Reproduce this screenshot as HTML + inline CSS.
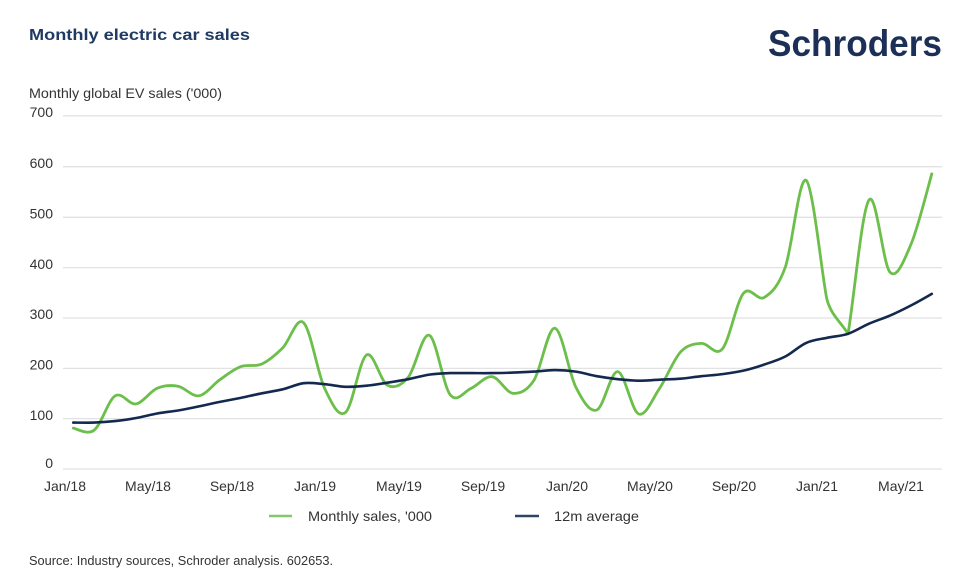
<!DOCTYPE html>
<html><head><meta charset="utf-8"><style>
html,body{margin:0;padding:0;background:#fff;}
svg{display:block;}
text{font-family:"Liberation Sans",Arial,sans-serif;}
</style></head><body>
<svg id="c" width="960" height="582" viewBox="0 0 960 582" xmlns="http://www.w3.org/2000/svg">
<rect width="960" height="582" fill="#fff"/>
<text x="29" y="40" font-size="16" font-weight="bold" fill="#1f3a63" textLength="221" lengthAdjust="spacingAndGlyphs">Monthly electric car sales</text>
<text x="768" y="56" font-size="37" font-weight="bold" fill="#1c2f57" textLength="174" lengthAdjust="spacingAndGlyphs">Schroders</text>
<text x="29" y="98" font-size="13.5" fill="#333" textLength="193" lengthAdjust="spacingAndGlyphs">Monthly global EV sales ('000)</text>
<g stroke="#e2e2e2" stroke-width="1.3">
<line x1="63" x2="942" y1="115.8" y2="115.8"/>
<line x1="63" x2="942" y1="166.7" y2="166.7"/>
<line x1="63" x2="942" y1="217.3" y2="217.3"/>
<line x1="63" x2="942" y1="267.6" y2="267.6"/>
<line x1="63" x2="942" y1="318" y2="318"/>
<line x1="63" x2="942" y1="368.4" y2="368.4"/>
<line x1="63" x2="942" y1="418.6" y2="418.6"/>
<line x1="63" x2="942" y1="469" y2="469"/>
</g>
<g font-size="14" fill="#333" text-anchor="end">
<text x="53" y="117">700</text>
<text x="53" y="168">600</text>
<text x="53" y="218.5">500</text>
<text x="53" y="269">400</text>
<text x="53" y="319">300</text>
<text x="53" y="369.5">200</text>
<text x="53" y="420">100</text>
<text x="53" y="468">0</text>
</g>
<g font-size="14" fill="#333" text-anchor="middle">
<text x="65" y="491">Jan/18</text>
<text x="148" y="491">May/18</text>
<text x="232" y="491">Sep/18</text>
<text x="315" y="491">Jan/19</text>
<text x="399" y="491">May/19</text>
<text x="483" y="491">Sep/19</text>
<text x="567" y="491">Jan/20</text>
<text x="650" y="491">May/20</text>
<text x="734" y="491">Sep/20</text>
<text x="817" y="491">Jan/21</text>
<text x="901" y="491">May/21</text>
</g>
<path id="green" d="" fill="none" stroke="#6cbf4a" stroke-width="2.8" stroke-linejoin="round" stroke-linecap="round"/>
<path id="dark" d="" fill="none" stroke="#13294f" stroke-width="2.6" stroke-linejoin="round" stroke-linecap="round"/>
<line x1="269" x2="292" y1="516" y2="516" stroke="#86c76c" stroke-width="2.5"/>
<text x="308" y="521" font-size="14" fill="#333" textLength="124" lengthAdjust="spacingAndGlyphs">Monthly sales, '000</text>
<line x1="515" x2="539" y1="516" y2="516" stroke="#2f4566" stroke-width="2.5"/>
<text x="554" y="521" font-size="14" fill="#333" textLength="85" lengthAdjust="spacingAndGlyphs">12m average</text>
<text x="29" y="565" font-size="12.5" fill="#333" textLength="304" lengthAdjust="spacingAndGlyphs">Source: Industry sources, Schroder analysis. 602653.</text>
</svg>
<script>
(function(){
var g=[81,77,145,129,160,164,145,177,203,208,240,290,160,112,226,166,182,265,147,160,183,150,176,279,162,117,193,109,160,232,249,238,348,340,400,572,335,268,533,390,445,585];
var d=[92,92,95,101,110,116,124,133,141,150,158,170,168,163,165,171,178,187,190,190,190,191,193,196,193,184,178,175,177,179,184,188,195,207,223,250,260,268,288,304,324,347];
function pts(a){return a.map(function(v,i){return [73.3+20.94*i,469-v*0.5046];});}
function path(p,cusps,scale){
 cusps=cusps||{};scale=scale||{};
 function sc(i){return scale[i]!==undefined?scale[i]:1;}
 var s="M"+p[0][0].toFixed(1)+","+p[0][1].toFixed(1);
 for(var i=0;i<p.length-1;i++){
  var p0=p[i>0?i-1:i],p1=p[i],p2=p[i+1],p3=p[i+2<p.length?i+2:i+1];
  var c1x,c1y,c2x,c2y,k1=sc(i),k2=sc(i+1);
  if(cusps[i]){c1x=p1[0]+(p2[0]-p1[0])/3;c1y=p1[1]+(p2[1]-p1[1])/3;}
  else{c1x=p1[0]+k1*(p2[0]-p0[0])/6;c1y=p1[1]+k1*(p2[1]-p0[1])/6;}
  if(cusps[i+1]){c2x=p2[0]-(p2[0]-p1[0])/3;c2y=p2[1]-(p2[1]-p1[1])/3;}
  else{c2x=p2[0]-k2*(p3[0]-p1[0])/6;c2y=p2[1]-k2*(p3[1]-p1[1])/6;}
  s+=" C"+c1x.toFixed(1)+","+c1y.toFixed(1)+" "+c2x.toFixed(1)+","+c2y.toFixed(1)+" "+p2[0].toFixed(1)+","+p2[1].toFixed(1);
 }
 return s;
}
document.getElementById("green").setAttribute("d",path(pts(g),{37:1},{36:0.6}));
document.getElementById("dark").setAttribute("d",path(pts(d)));
})();
</script>
</body></html>
